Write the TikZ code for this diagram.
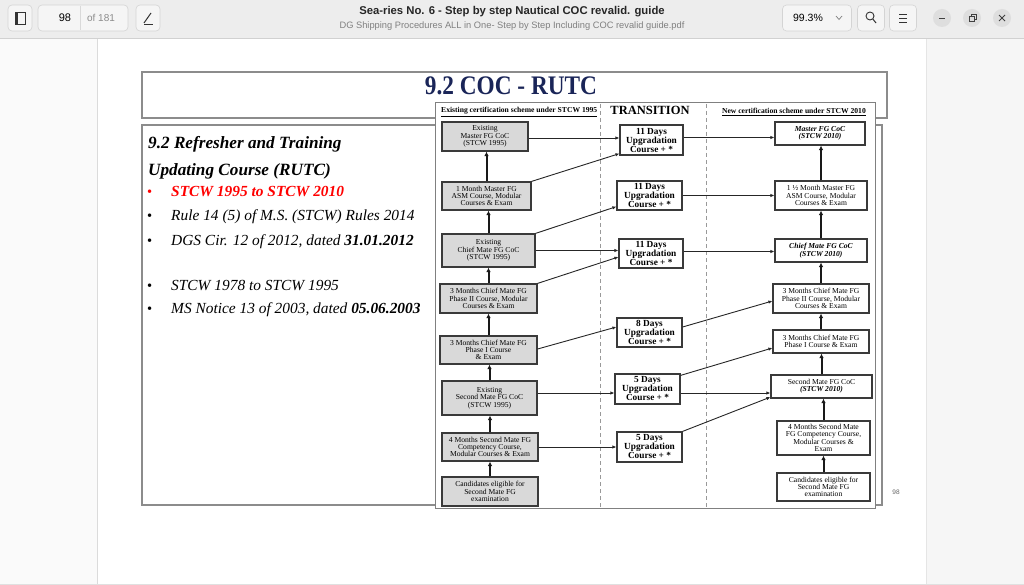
\documentclass[tikz,border=0pt]{standalone}
\usepackage{fontspec}
\setmainfont{Liberation Serif}
\newfontfamily\uifont{Liberation Sans}
\newfontfamily\symfont{DejaVu Sans}
\usetikzlibrary{arrows.meta}
\definecolor{tbbg}{HTML}{EDEDED}
\definecolor{sidebg}{HTML}{FAFAFA}
\definecolor{rightbg}{HTML}{F6F6F6}
\definecolor{navy}{HTML}{1A2558}
\definecolor{boxgray}{HTML}{D9D9D9}
\definecolor{edge}{HTML}{3A3A3A}
\tikzset{
  btn/.style={draw=black!17, fill=white!96!black, rounded corners=4pt, line width=0.6pt},
  lbox/.style={draw=edge, fill=boxgray, line width=1.2pt, inner sep=0pt, align=center, font=\fontsize{7.6}{7.3}\selectfont},
  rbox/.style={lbox, fill=white},
  tbox/.style={draw=edge, fill=white, line width=1.2pt, inner sep=0pt, align=center, font=\bfseries\fontsize{9.3}{9}\selectfont},
  conn/.style={draw=black!85, line width=0.9pt, -{Latex[length=4pt,width=3.4pt]}},
  uparr/.style={draw=black!90, line width=2pt, -{Latex[length=4.5pt,width=4.6pt]}},
  hdr/.style={inner sep=0pt, font=\bfseries\fontsize{7.6}{8}\selectfont},
  bul/.style={anchor=base west, inner sep=0pt, font=\itshape\fontsize{15.4}{16}\selectfont},
  dot/.style={anchor=base west, inner sep=0pt, font=\fontsize{14.5}{15}\selectfont},
  wc/.style={fill=black!13, draw=none}
}
\begin{document}
\begin{tikzpicture}[x=1pt,y=-1pt]
\useasboundingbox (0,0) rectangle (1024,585);
% ---------- window background ----------
\fill[sidebg] (0,0) rectangle (97,585);
\fill[white] (97,38) rectangle (926,585);
\fill[rightbg] (926,38) rectangle (1024,585);
\draw[black!14, line width=0.8pt] (97,38) -- (97,585);
\draw[black!10, line width=0.8pt] (926,38) -- (926,585);
\draw[black!12, line width=0.8pt] (0,584) -- (1024,584);
% ---------- toolbar ----------
\fill[tbbg] (0,0) rectangle (1024,38);
\draw[black!18, line width=0.8pt] (0,38) -- (1024,38);
\node[btn, minimum width=24, minimum height=26] (sbb) at (20,18) {};
\draw[black!80, line width=0.9pt] (15,12) rectangle (25,24);
\fill[black!80] (15,12) rectangle (18,24);
\node[btn, minimum width=90, minimum height=26] (pgb) at (83,18) {};
\draw[black!15] (80,6) -- (80,30);
\node[font=\uifont\fontsize{11}{12}\selectfont] (pgn) at (65,18) {98};
\node[font=\uifont\fontsize{10}{12}\selectfont, text=black!45] (pgt) at (101,18) {of 181};
\node[btn, minimum width=24, minimum height=26] (penb) at (148,18) {};
\draw[black!80, line width=1pt] (144,23) -- (151,13);
\draw[black!80, line width=0.7pt] (144,24) -- (153,24);
\node[font=\uifont\bfseries\fontsize{11.3}{12}\selectfont, text=black!85] (wt) at (512,12) {Sea-ries No. 6 - Step by step Nautical COC revalid. guide};
\node[font=\uifont\fontsize{9.3}{10}\selectfont, text=black!50] (ws) at (512,26) {DG Shipping Procedures ALL in One- Step by Step Including COC revalid guide.pdf};
\node[btn, minimum width=69, minimum height=26] (zb) at (817,18) {};
\node[font=\uifont\fontsize{10.5}{12}\selectfont] (zt) at (808,18) {99.3\%};
\draw[black!50, line width=0.7pt] (836,16) -- (839,19.5) -- (842,16);
\node[btn, minimum width=27, minimum height=26] (srb) at (871,18) {};
\draw[black!80, line width=0.9pt] (870,16) circle (4);
\draw[black!80, line width=1pt] (872.8,19) -- (876,23);
\node[btn, minimum width=27, minimum height=26] (mnb) at (903,18) {};
\draw[black!80, line width=0.8pt] (899,14) -- (907,14) (899,18) -- (907,18) (899,22) -- (907,22);
\fill[wc] (942,18) circle (9);
\fill[wc] (972,18) circle (9);
\fill[wc] (1002,18) circle (9);
\draw[black!75, line width=0.9pt] (939,18.5) -- (945,18.5);
\draw[black!75, line width=0.7pt] (969,16) rectangle (974,21);
\draw[black!75, line width=0.7pt] (971,16) -- (971,14) -- (976,14) -- (976,19) -- (974,19);
\draw[black!75, line width=0.9pt] (999,15) -- (1005,21) (999,21) -- (1005,15);
% ---------- slide frames ----------
\draw[black!45, line width=1.2pt] (142,72) rectangle (887,118);
\draw[black!45, line width=1.2pt] (142,125) rectangle (882,505);
\node[font=\bfseries\fontsize{23.3}{26}\selectfont, text=navy, yscale=1.15] (title) at (511,86) {9.2 COC - RUTC};
% ---------- left text ----------
\node[anchor=base west, inner sep=0pt, font=\bfseries\itshape\fontsize{17.2}{18}\selectfont] (l1) at (148,149) {9.2 Refresher and Training};
\node[anchor=base west, inner sep=0pt, font=\bfseries\itshape\fontsize{17.2}{18}\selectfont] (l2) at (148,176) {Updating Course (RUTC)};
\node[dot, text=red] (d1) at (147,197) {•};
\node[bul, text=red, font=\bfseries\itshape\fontsize{15.4}{16}\selectfont] (s1) at (171,197) {STCW 1995 to STCW 2010};
\node[dot] (d2) at (147,221) {•};
\node[bul] (s2) at (171,221) {Rule 14 (5) of M.S. (STCW) Rules 2014};
\node[dot] (d3) at (147,245) {•};
\node[bul] (s3) at (171,245) {DGS Cir. 12 of 2012, dated \textbf{31.01.2012}};
\node[dot] (d4) at (147,290) {•};
\node[bul] (s4) at (171,290) {STCW 1978 to STCW 1995};
\node[dot] (d5) at (147,313) {•};
\node[bul] (s5) at (171,313) {MS Notice 13 of 2003, dated \textbf{05.06.2003}};
\node[font=\uifont\fontsize{6.5}{7}\selectfont, text=black!60] (pn) at (896,492) {98};
% ---------- diagram frame ----------
\draw[black!50, fill=white, line width=1pt] (435,103) rectangle (875,508);
\draw[black!40, line width=1pt, dash pattern=on 4pt off 3pt] (600,104) -- (600,507);
\draw[black!40, line width=1pt, dash pattern=on 4pt off 3pt] (706,104) -- (706,507);
\node[hdr, anchor=west] (h1) at (441,112) {\underline{Existing certification scheme under STCW 1995}};
\node[font=\bfseries\fontsize{12.5}{13}\selectfont] (tr) at (650,110) {TRANSITION};
\node[hdr, anchor=east] (h2) at (866,112) {\underline{New certification scheme under STCW 2010}};
% left column
\node[lbox, minimum width=86, minimum height=29] (b1) at (485,136.5) {Existing\\Master FG CoC\\(STCW 1995)};
\node[lbox, minimum width=89, minimum height=28] (b2) at (486.5,196) {1 Month Master FG\\ASM Course, Modular\\Courses \& Exam};
\node[lbox, minimum width=93, minimum height=33] (b3) at (488.5,250.5) {Existing\\Chief Mate FG CoC\\(STCW 1995)};
\node[lbox, minimum width=97, minimum height=29] (b4) at (488.5,298.5) {3 Months Chief Mate FG\\Phase II Course, Modular\\Courses \& Exam};
\node[lbox, minimum width=97, minimum height=28] (b5) at (488.5,350) {3 Months Chief Mate FG\\Phase I Course\\\& Exam};
\node[lbox, minimum width=95, minimum height=34] (b6) at (489.5,398) {Existing\\Second Mate FG CoC\\(STCW 1995)};
\node[lbox, minimum width=96, minimum height=28] (b7) at (490,447) {4 Months Second Mate FG\\Competency Course,\\Modular Courses \& Exam};
\node[lbox, minimum width=96, minimum height=29] (b8) at (490,491.5) {Candidates eligible for\\Second Mate FG\\examination};
% transition column
\node[tbox, minimum width=63, minimum height=30] (t1) at (651.5,140) {11 Days\\Upgradation\\Course + *};
\node[tbox, minimum width=65, minimum height=29] (t2) at (649.5,195.5) {11 Days\\Upgradation\\Course + *};
\node[tbox, minimum width=64, minimum height=29] (t3) at (651,253.5) {11 Days\\Upgradation\\Course + *};
\node[tbox, minimum width=65, minimum height=29] (t4) at (649.5,332.5) {8 Days\\Upgradation\\Course + *};
\node[tbox, minimum width=65, minimum height=30] (t5) at (647.5,389) {5 Days\\Upgradation\\Course + *};
\node[tbox, minimum width=65, minimum height=30] (t6) at (649.5,447) {5 Days\\Upgradation\\Course + *};
% right column
\node[rbox, minimum width=90, minimum height=23, font=\bfseries\itshape\fontsize{7.6}{7.3}\selectfont] (r1) at (820,133.5) {Master FG CoC\\(STCW 2010)};
\node[rbox, minimum width=92, minimum height=29] (r2) at (821,195.5) {1 ½ Month Master FG\\ASM Course, Modular\\Courses \& Exam};
\node[rbox, minimum width=92, minimum height=23, font=\bfseries\itshape\fontsize{7.6}{7.3}\selectfont] (r3) at (821,250.5) {Chief Mate FG CoC\\(STCW 2010)};
\node[rbox, minimum width=96, minimum height=29] (r4) at (821,298.5) {3 Months Chief Mate FG\\Phase II Course, Modular\\Courses \& Exam};
\node[rbox, minimum width=96, minimum height=23] (r5) at (821,341.5) {3 Months Chief Mate FG\\Phase I Course \& Exam};
\node[rbox, minimum width=101, minimum height=23] (r6) at (821.5,386.5) {Second Mate FG CoC\\\textbf{\textit{(STCW 2010)}}};
\node[rbox, minimum width=93, minimum height=34] (r7) at (823.5,438) {4 Months Second Mate\\FG Competency Course,\\Modular Courses \&\\Exam};
\node[rbox, minimum width=93, minimum height=28] (r8) at (823.5,487) {Candidates eligible for\\Second Mate FG\\examination};
% vertical arrows
\foreach \lo/\hi in {b2/b1,b3/b2,b4/b3,b5/b4,b6/b5,b7/b6,b8/b7,r2/r1,r3/r2,r4/r3,r5/r4,r6/r5,r7/r6,r8/r7}
  \draw[uparr] (\lo.north) -- (\lo.north |- \hi.south);
% connectors left -> transition
\draw[conn] ([yshift=-1.5pt]b1.east) -- ([yshift=-1.5pt]b1.east -| t1.west);
\draw[conn] (b2.north east) -- ([yshift=2pt]t1.south west);
\draw[conn] (b3.north east) -- ([yshift=4pt]t2.south west);
\draw[conn] (b3.east) -- (b3.east -| t3.west);
\draw[conn] (b4.north east) -- ([yshift=-3.5pt]t3.west);
\draw[conn] ([yshift=1pt]b5.east) -- ([yshift=5.5pt]t4.west);
\draw[conn] ([yshift=5pt]b6.east) -- ([yshift=5pt]b6.east -| t5.west);
\draw[conn] (b7.east) -- (b7.east -| t6.west);
% connectors transition -> right
\draw[conn] ([yshift=2.5pt]t1.east) -- ([yshift=2.5pt]t1.east -| r1.west);
\draw[conn] (t2.east) -- (t2.east -| r2.west);
\draw[conn] ([yshift=2pt]t3.east) -- ([yshift=2pt]t3.east -| r3.west);
\draw[conn] ([yshift=5.5pt]t4.east) -- ([yshift=-2.5pt]r4.west);
\draw[conn] ([yshift=-2pt]t5.north east) -- ([yshift=-6.5pt]r5.west);
\draw[conn] ([yshift=-4pt]t5.east) -- ([yshift=-4pt]t5.east -| r6.west);
\draw[conn] (t6.north east) -- ([yshift=1.5pt]r6.south west);
\end{tikzpicture}
\end{document}
